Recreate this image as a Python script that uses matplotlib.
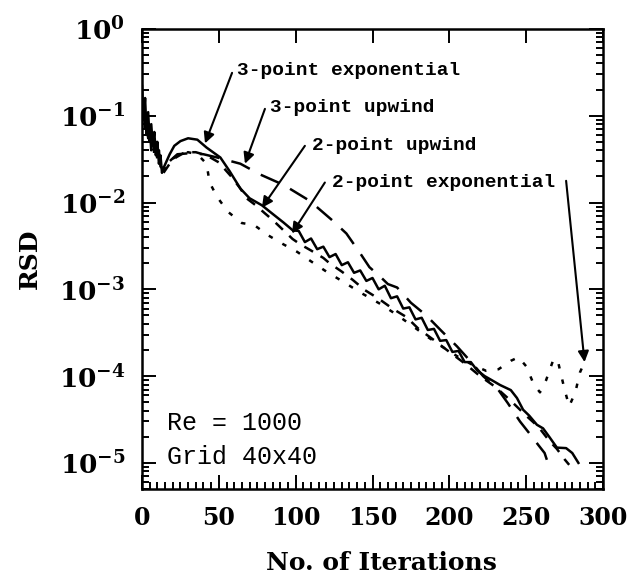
import matplotlib
matplotlib.use('Agg')
import numpy as np
import matplotlib.pyplot as plt
from matplotlib.ticker import LogLocator, MultipleLocator, FuncFormatter, NullFormatter

plt.rcParams['font.family'] = 'DejaVu Serif'
plt.rcParams['mathtext.fontset'] = 'dejavuserif'

# 3-point exponential (solid)
x_3exp = [0, 1, 2, 3, 4, 5, 6, 7, 8, 9, 10, 11, 12, 13, 14, 16, 18, 21, 25, 30,
          36, 42, 51, 57, 64, 70, 78, 85, 92, 98, 102, 106, 110, 114, 118, 122,
          126, 130, 134, 138, 142, 146, 150, 154, 158, 162, 166, 170, 174, 178,
          182, 186, 190, 194, 198, 202, 206, 210, 214, 218, 223, 228, 233, 240,
          244, 248, 252, 257, 261, 265, 270, 276, 280, 284]
y_3exp = [0.22, 0.09, 0.16, 0.06, 0.11, 0.05, 0.08, 0.045, 0.065, 0.035, 0.05, 0.028,
          0.035, 0.022, 0.025, 0.03, 0.036, 0.045, 0.051, 0.055, 0.053, 0.043,
          0.033, 0.023, 0.0145, 0.0112, 0.0093, 0.0074, 0.0059, 0.0048, 4.7e-3,
          3.5e-3, 3.85e-3, 2.9e-3, 3.1e-3, 2.35e-3, 2.55e-3, 1.9e-3, 2.05e-3,
          1.55e-3, 1.65e-3, 1.25e-3, 1.35e-3, 1.0e-3, 1.1e-3, 7.9e-4, 8.3e-4,
          6.0e-4, 6.2e-4, 4.5e-4, 4.7e-4, 3.4e-4, 3.5e-4, 2.55e-4, 2.6e-4,
          1.9e-4, 1.95e-4, 1.45e-4, 1.45e-4, 1.17e-4, 1.0e-4, 8.9e-5, 7.9e-5,
          6.9e-5, 5.6e-5, 4.1e-5, 3.5e-5, 2.75e-5, 2.5e-5, 2.0e-5, 1.5e-5,
          1.48e-5, 1.3e-5, 1.0e-5]

# 3-point upwind (long dash)
x_3up = [1, 2, 3, 4, 5, 6, 7, 8, 9, 10, 11, 12, 14, 18, 23, 31, 40, 49, 64, 77,
         92, 109, 124, 133, 142, 148, 155, 160, 166, 175, 185, 195, 205, 215,
         222, 232, 238, 246, 252, 258, 262, 265]
y_3up = [0.12, 0.07, 0.09, 0.055, 0.075, 0.04, 0.06, 0.035, 0.05, 0.03, 0.04,
         0.026, 0.024, 0.03, 0.036, 0.037, 0.036, 0.033, 0.028, 0.021, 0.016,
         0.0105, 0.0062, 0.0044, 0.0026, 0.0018, 0.0014, 0.00115, 0.00105,
         7.0e-4, 5.0e-4, 3.3e-4, 2.2e-4, 1.4e-4, 1.0e-4, 6.9e-5, 4.9e-5, 3.0e-5,
         2.2e-5, 1.6e-5, 1.3e-5, 9e-6]

# 2-point upwind (short dash)
x_2up = [14, 18, 22, 28, 35, 42, 50, 58, 64, 68, 74, 80, 85, 92, 98, 103, 110,
         118, 122, 130, 137, 145, 154, 163, 172, 180, 190, 200, 210, 220, 230,
         240, 250, 258, 265, 270, 275, 278]
y_2up = [0.022, 0.028, 0.033, 0.038, 0.038, 0.035, 0.029, 0.02, 0.0145, 0.0112,
         0.0093, 0.0075, 0.0063, 0.0048, 0.0038, 0.0033, 0.0028, 0.0023, 0.002,
         0.0016, 0.00129, 9.8e-4, 7.8e-4, 6.0e-4, 4.8e-4, 3.5e-4, 2.6e-4,
         1.9e-4, 1.4e-4, 1.0e-4, 7.5e-5, 5.2e-5, 3.5e-5, 2.6e-5, 1.8e-5,
         1.45e-5, 1.1e-5, 9.5e-6]

# 2-point exponential (dotted)
x_2exp = [14, 18, 24, 30, 36, 42, 44, 49, 56, 65, 73, 82, 92, 101, 110, 120, 130,
          143, 155, 165, 175, 185, 195, 205, 215, 224, 232, 240, 245, 250, 255,
          259, 263, 268, 271, 275, 278, 282, 285, 289]
y_2exp = [0.023, 0.03, 0.036, 0.038, 0.036, 0.028, 0.017, 0.0115, 0.0078, 0.0058,
          0.0055, 0.0042, 0.0033, 0.0027, 0.0021, 0.0016, 0.00125, 9.0e-4,
          6.8e-4, 5.2e-4, 3.9e-4, 2.9e-4, 2.2e-4, 1.7e-4, 1.35e-4, 1.15e-4,
          1.2e-4, 1.5e-4, 1.65e-4, 1.3e-4, 8e-5, 6.5e-5, 9e-5, 1.6e-4, 1.4e-4,
          7e-5, 4.5e-5, 6.5e-5, 1.1e-4, 1.6e-4]

fig = plt.figure(figsize=(6.27, 5.79), dpi=100)
ax = fig.add_axes([0.2265, 0.1554, 0.7352, 0.7946])

lw = 1.8
ax.plot(x_3exp, y_3exp, color='black', lw=lw, solid_joinstyle='round')
ax.plot(x_3up, y_3up, color='black', lw=lw, dashes=(8, 5))
ax.plot(x_2up, y_2up, color='black', lw=lw, dashes=(4, 3.5))
ax.plot(x_2exp, y_2exp, color='black', lw=lw, dashes=(1.8, 4.5))

ax.set_yscale('log')
ax.set_xlim(0, 300)
ax.set_ylim(5e-6, 1)

ax.xaxis.set_major_locator(MultipleLocator(50))
ax.xaxis.set_minor_locator(MultipleLocator(5))
ax.yaxis.set_major_locator(LogLocator(base=10, numticks=10))
ax.yaxis.set_minor_locator(LogLocator(base=10, subs=np.arange(2, 10), numticks=10))
ax.yaxis.set_major_formatter(FuncFormatter(
    lambda v, p: r'$\mathbf{10^{%d}}$' % int(round(np.log10(v)))))
ax.yaxis.set_minor_formatter(NullFormatter())

ax.tick_params(which='both', direction='in', top=True, right=True, width=1.4)
ax.tick_params(which='major', length=10)
ax.tick_params(which='minor', length=5)
ax.tick_params(axis='x', which='minor', top=False)
ax.tick_params(axis='x', pad=12, labelsize=17)
ax.tick_params(axis='y', pad=12, labelsize=19)
for lab in ax.get_xticklabels():
    lab.set_fontweight('bold')
for s in ax.spines.values():
    s.set_linewidth(1.8)

ax.set_xlabel('No. of Iterations', fontsize=18, fontweight='bold')
ax.xaxis.set_label_coords(0.52, -0.135)
ax.set_ylabel('RSD', fontsize=18, fontweight='bold', labelpad=12)

afont = dict(family='Liberation Mono', fontweight='bold', fontsize=14)
arrow = dict(arrowstyle='-|>', color='black', lw=1.5, mutation_scale=16,
             shrinkA=0, shrinkB=0)

ax.text(61.8, 0.329, '3-point exponential', ha='left', va='center', **afont)
ax.annotate('', xy=(41, 0.048), xytext=(58.6, 0.312), arrowprops=arrow)

ax.text(83.3, 0.124, '3-point upwind', ha='left', va='center', **afont)
ax.annotate('', xy=(67, 0.028), xytext=(80, 0.12), arrowprops=arrow)

ax.text(110.6, 0.045, '2-point upwind', ha='left', va='center', **afont)
ax.annotate('', xy=(78, 0.0087), xytext=(106, 0.045), arrowprops=arrow)

ax.text(123.6, 0.017, '2-point exponential', ha='left', va='center', **afont)
ax.annotate('', xy=(97.6, 0.0044), xytext=(119, 0.017), arrowprops=arrow)
ax.annotate('', xy=(288, 1.45e-4), xytext=(276, 0.0178), arrowprops=arrow)

tfont = dict(family='Liberation Mono', fontsize=18)
ax.text(0.054, 0.143, 'Re = 1000', transform=ax.transAxes, ha='left', va='center', **tfont)
ax.text(0.054, 0.07, 'Grid 40x40', transform=ax.transAxes, ha='left', va='center', **tfont)

fig.savefig('out.png', dpi=100)
